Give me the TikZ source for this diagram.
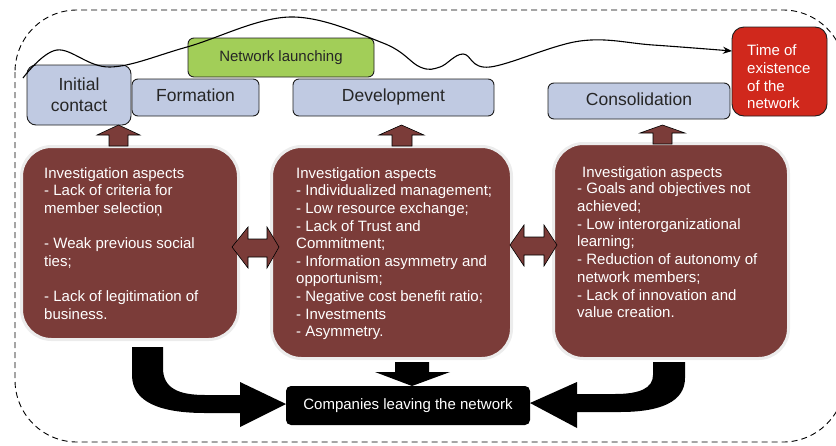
\documentclass[tikz,border=0pt]{standalone}
\usepackage{fontspec}
\setmainfont{Liberation Sans}
\usetikzlibrary{arrows.meta}
\definecolor{boxblue}{RGB}{192,202,226}
\definecolor{launchgreen}{RGB}{162,206,88}
\definecolor{timered}{RGB}{208,40,28}
\definecolor{aspbrown}{RGB}{123,60,57}
\definecolor{ringgray}{RGB}{236,236,236}
\definecolor{edgedark}{RGB}{30,30,30}
\begin{document}
\begin{tikzpicture}[x=1pt,y=-1pt,
  phase/.style={draw=edgedark, line width=0.9pt, fill=boxblue, rounded corners=6pt,
    inner sep=0pt, font=\fontsize{17.5}{21}\selectfont, text=black!85},
  oneline/.style={text height=12.6pt, text depth=3.7pt},
  aspect/.style={draw=ringgray, line width=3pt, fill=aspbrown, rounded corners=30pt, inner sep=0pt},
  asptext/.style={anchor=north west, inner sep=0pt, align=left, text=white,
    font=\fontsize{15}{17.6}\selectfont},
  blockarrow/.style={fill=aspbrown, draw=black, line width=0.6pt},
  leavearrow/.style={fill=black},
  frame/.style={draw=black, line width=0.9pt, dash pattern=on 6pt off 4pt, rounded corners=62pt},
  lifecurve/.style={draw=black, line width=1.1pt, -{Stealth[length=9pt,width=7pt]}},
]
\useasboundingbox (0,0) rectangle (836,445);

% outer dashed frame
\draw[frame] (15,10) rectangle (845,442);

% phase boxes
\node[phase, oneline, minimum width=127pt, minimum height=37pt] (form) at (195.5,97.5) {Formation};
\node[phase, rounded corners=9pt, minimum width=104pt, minimum height=60pt, align=center] (init) at (79,95) {Initial\\contact};
\node[phase, oneline, minimum width=201pt, minimum height=37pt] (dev) at (393.5,97.5) {Development};
\node[phase, oneline, minimum width=182pt, minimum height=36pt] (cons) at (639,101) {Consolidation};
\node[phase, fill=launchgreen, minimum width=186pt, minimum height=39pt,
  font=\fontsize{15}{18}\selectfont, text height=11pt, text depth=3.2pt] (launch) at (281,57.5) {Network launching};
\node[phase, fill=timered, rounded corners=12pt, minimum width=95pt, minimum height=89pt] (time) at (779.5,71.5) {};
\node[anchor=north west, inner sep=0pt, align=left, text=white,
  font=\fontsize{15}{17.7}\selectfont] (timetext) at (747,44.7) {Time of\\existence\\of the\\network};

% investigation boxes
\node[aspect, minimum width=217pt, minimum height=193pt] (asp1) at (130,243) {};
\node[aspect, minimum width=240pt, minimum height=212pt] (asp2) at (391.5,252.5) {};
\node[aspect, minimum width=235pt, minimum height=215pt] (asp3) at (671,251) {};

\node[asptext] (asp1text) at (44,167.3) {Investigation aspects\\- Lack of criteria for\\member selectio\char"0146\\[17.6pt]- Weak previous social\\ties;\\[17.6pt]- Lack of legitimation of\\business.};
\node[asptext] (asp2text) at (296,167.3) {Investigation aspects\\- Individualized management;\\- Low resource exchange;\\- Lack of Trust and\\Commitment;\\- Information asymmetry and\\opportunism;\\- Negative cost benefit ratio;\\- Investments\\- Asymmetry.};
\node[asptext] (asp3head) at (582,166.8) {Investigation aspects};
\node[asptext, font=\fontsize{15}{17.7}\selectfont] (asp3text) at (577,182.8) {- Goals and objectives not\\achieved;\\- Low interorganizational\\learning;\\- Reduction of autonomy of\\network members;\\- Lack of innovation and\\value creation.};

% up arrows
\path[blockarrow] (118.5,125) -- (140,135) -- (128,135) -- (128,146) -- (109,146) -- (109,135) -- (97,135) -- cycle;
\path[blockarrow] (401.5,125) -- (424,135) -- (412,135) -- (412,146) -- (392,146) -- (392,135) -- (379,135) -- cycle;
\path[blockarrow] (662.5,125) -- (685,133) -- (672,133) -- (672,144) -- (653,144) -- (653,133) -- (640,133) -- cycle;

% double arrows
\path[blockarrow] (232,247) -- (248,227) -- (248,239) -- (267,239) -- (267,227) -- (279,247)
  -- (267,268) -- (267,257) -- (248,257) -- (248,268) -- cycle;
\path[blockarrow] (510,245) -- (524,225) -- (524,237) -- (544,237) -- (544,225) -- (557,245)
  -- (544,266) -- (544,255) -- (524,255) -- (524,266) -- cycle;

% companies leaving
\node[fill=black, rounded corners=5pt, minimum width=244pt, minimum height=39pt, inner sep=0pt,
  text=white, font=\fontsize{15}{18}\selectfont] (leave) at (408,405.5) {Companies leaving the network};

% black arrows
\path[leavearrow] (132,347) -- (132,375) .. controls (132,402) and (160,413) .. (205,413)
  -- (240,413) -- (240,427) -- (286,404) -- (240,382) -- (240,395) -- (205,395)
  .. controls (178,395) and (163,388) .. (163,368) -- (163,347) -- cycle;
\path[leavearrow] (685,362) -- (685,378) .. controls (685,402) and (660,412) .. (620,412)
  -- (577,412) -- (577,428) -- (530,403) -- (577,382) -- (577,394) -- (615,394)
  .. controls (640,394) and (653,388) .. (653,375) -- (653,362) -- cycle;
\path[leavearrow] (395,362) -- (429,362) -- (429,372) -- (450,372) -- (412,386) -- (375,372) -- (395,372) -- cycle;

% life curve
\draw[lifecurve] plot[smooth, tension=0.6] coordinates {(23,78) (57,50) (110,67) (187,47) (290,17) (383,43) (420,67) (440,67) (463,54) (490,67) (580,41) (653,45) (732,51)};
\end{tikzpicture}
\end{document}
